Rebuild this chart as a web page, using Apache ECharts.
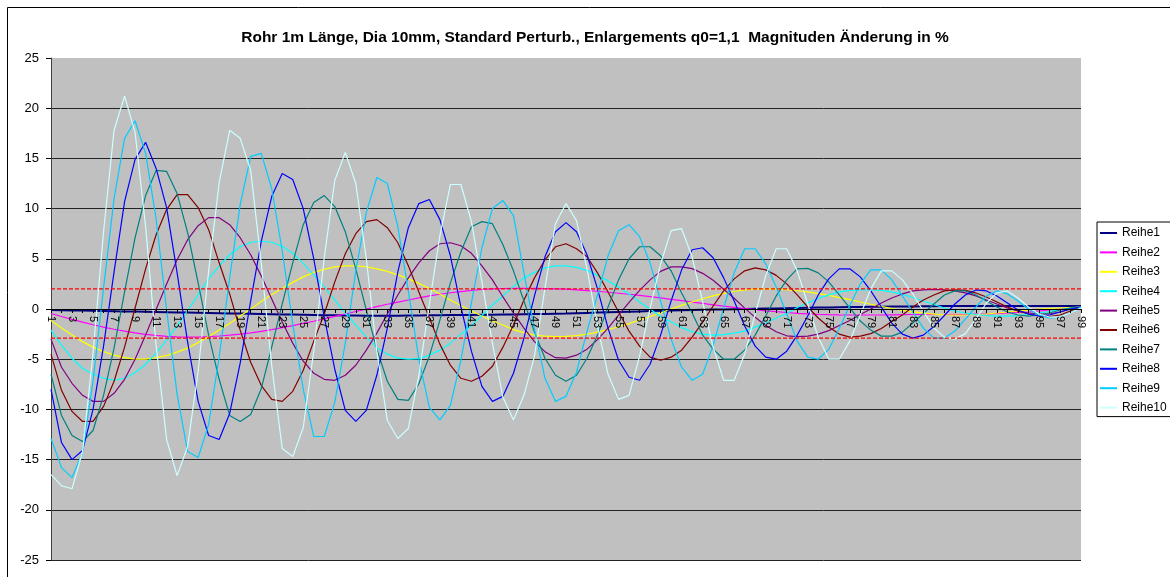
<!DOCTYPE html>
<html>
<head>
<meta charset="utf-8">
<script src="https://cdn.jsdelivr.net/npm/echarts@6/dist/echarts.min.js"></script>
<style>
html,body{margin:0;padding:0;background:#fff;}
#chart{width:1170px;height:577px;}
</style>
</head>
<body>
<div id="chart"></div>
<script>
const titleText = 'Rohr 1m Länge, Dia 10mm, Standard Perturb., Enlargements q0=1,1  Magnituden Änderung in %';
const categories = [1,2,3,4,5,6,7,8,9,10,11,12,13,14,15,16,17,18,19,20,21,22,23,24,25,26,27,28,29,30,31,32,33,34,35,36,37,38,39,40,41,42,43,44,45,46,47,48,49,50,51,52,53,54,55,56,57,58,59,60,61,62,63,64,65,66,67,68,69,70,71,72,73,74,75,76,77,78,79,80,81,82,83,84,85,86,87,88,89,90,91,92,93,94,95,96,97,98,99];
const seriesNames = ['Reihe1','Reihe2','Reihe3','Reihe4','Reihe5','Reihe6','Reihe7','Reihe8','Reihe9','Reihe10'];
const seriesColors = ['#000080','#FF00FF','#FFFF00','#00FFFF','#800080','#800000','#008080','#0000FF','#00CCFF','#CCFFFF'];
const yTicks = {min: -25, max: 25, step: 5};
const refLines = [2, -2.9];

const reihe1 = [-0.1,-0.12,-0.14,-0.16,-0.18,-0.2,-0.22,-0.24,-0.26,-0.28,-0.3,-0.32,-0.34,-0.36,-0.38,-0.4,-0.42,-0.44,-0.46,-0.48,-0.5,-0.52,-0.54,-0.56,-0.58,-0.6,-0.62,-0.63,-0.64,-0.65,-0.66,-0.66,-0.66,-0.66,-0.65,-0.64,-0.63,-0.62,-0.61,-0.6,-0.59,-0.58,-0.57,-0.56,-0.55,-0.53,-0.51,-0.49,-0.47,-0.45,-0.42,-0.39,-0.36,-0.33,-0.3,-0.27,-0.24,-0.21,-0.18,-0.15,-0.12,-0.1,-0.08,-0.06,-0.04,-0.02,0,0.02,0.04,0.06,0.08,0.1,0.12,0.14,0.16,0.18,0.2,0.21,0.22,0.23,0.24,0.25,0.26,0.27,0.28,0.29,0.3,0.3,0.3,0.3,0.3,0.3,0.3,0.3,0.3,0.3,0.3,0.3,0.3];
const reihe2 = [-0.45,-0.75,-1.04,-1.31,-1.57,-1.8,-2.02,-2.21,-2.38,-2.52,-2.63,-2.72,-2.78,-2.8,-2.79,-2.75,-2.69,-2.6,-2.5,-2.37,-2.22,-2.05,-1.86,-1.65,-1.44,-1.22,-0.99,-0.74,-0.5,-0.25,-0.01,0.24,0.47,0.69,0.9,1.11,1.3,1.47,1.62,1.74,1.86,1.94,2.0,2.04,2.05,2.05,2.05,2.03,2.01,1.97,1.91,1.84,1.77,1.67,1.57,1.47,1.35,1.23,1.1,0.96,0.83,0.69,0.56,0.42,0.29,0.17,0.05,-0.07,-0.18,-0.27,-0.35,-0.43,-0.49,-0.54,-0.57,-0.59,-0.6,-0.6,-0.6,-0.6,-0.58,-0.56,-0.55,-0.55,-0.55,-0.55,-0.55,-0.55,-0.52,-0.5,-0.45,-0.4,-0.35,-0.3,-0.2,-0.1,0,0.1,0.2];
const reihe3 = [-1.15,-1.9,-2.6,-3.25,-3.8,-4.25,-4.6,-4.85,-5.0,-5.0,-4.85,-4.65,-4.3,-3.9,-3.35,-2.75,-2.1,-1.45,-0.7,0,0.75,1.45,2.05,2.65,3.2,3.65,3.95,4.2,4.3,4.3,4.2,4.0,3.75,3.4,3.0,2.55,2.05,1.5,0.9,0.35,-0.2,-0.7,-1.2,-1.6,-2.05,-2.35,-2.6,-2.7,-2.75,-2.72,-2.65,-2.5,-2.3,-2.05,-1.77,-1.45,-1.1,-0.75,-0.38,0,0.36,0.7,1.02,1.3,1.55,1.74,1.89,1.97,2.0,2.0,1.92,1.82,1.7,1.53,1.35,1.14,0.93,0.7,0.47,0.26,0.05,-0.13,-0.29,-0.42,-0.52,-0.58,-0.6,-0.6,-0.55,-0.5,-0.4,-0.3,-0.2,-0.1,0,0.05,0.1,0.15,0.2];
const reihe4 = [-2.1,-3.6,-4.9,-5.9,-6.5,-6.9,-7.1,-6.9,-6.35,-5.5,-4.4,-3.1,-1.7,-0.15,1.4,3.0,4.3,5.4,6.2,6.65,6.75,6.65,6.25,5.55,4.55,3.4,2.2,0.9,-0.4,-1.6,-2.8,-3.85,-4.5,-4.9,-5.0,-4.95,-4.6,-4.1,-3.4,-2.5,-1.65,-0.65,0.4,1.3,2.25,3.1,3.65,4.1,4.3,4.3,4.15,3.85,3.35,2.8,2.2,1.5,0.7,0,-0.75,-1.3,-1.85,-2.25,-2.5,-2.6,-2.55,-2.4,-2.2,-1.8,-1.4,-0.9,-0.45,0.15,0.6,1.05,1.4,1.7,1.85,1.9,1.9,1.85,1.7,1.45,1.15,0.8,0.45,0.1,-0.2,-0.4,-0.55,-0.65,-0.7,-0.7,-0.65,-0.55,-0.4,-0.25,-0.05,0.1,0.2];
const reihe5 = [-3.0,-5.8,-7.4,-8.6,-9.2,-9.2,-8.4,-7.0,-5.0,-2.6,-0.05,2.5,4.9,6.9,8.3,9.1,9.1,8.4,7.1,5.4,3.3,1.0,-1.3,-3.4,-5.2,-6.4,-7.0,-7.1,-6.6,-5.6,-4.1,-2.4,-0.5,1.4,3.1,4.6,5.8,6.5,6.6,6.3,5.55,4.3,2.9,1.2,-0.4,-1.9,-3.25,-4.25,-4.85,-4.9,-4.6,-4.0,-3.05,-1.9,-0.6,0.65,1.85,2.9,3.75,4.2,4.2,4.02,3.55,2.86,1.97,1.07,0.09,-0.83,-1.64,-2.26,-2.67,-2.75,-2.7,-2.5,-2.15,-1.65,-1.15,-0.55,0,0.6,1.1,1.5,1.8,1.9,1.95,1.9,1.8,1.6,1.3,0.9,0.5,0.1,-0.2,-0.4,-0.5,-0.5,-0.3,0,0.2];
const reihe6 = [-4.5,-8.1,-10.2,-11.2,-11.2,-9.7,-7.2,-3.8,0.1,4.0,7.4,9.9,11.4,11.4,10.1,7.9,4.6,1.5,-2.1,-5.3,-7.6,-9.0,-9.2,-8.2,-6.1,-3.2,-0.5,2.7,5.5,7.5,8.7,8.9,8.1,6.6,4.3,1.7,-0.9,-3.5,-5.6,-6.9,-7.2,-6.7,-5.7,-3.8,-1.6,0.9,3.1,4.9,6.2,6.5,6.0,5.2,3.6,1.7,-0.3,-2.2,-3.7,-4.8,-5.1,-4.8,-4.1,-2.8,-1.3,0.3,1.8,3.0,3.8,4.1,3.9,3.35,2.5,1.4,0.2,-0.9,-1.8,-2.5,-2.8,-2.7,-2.45,-1.95,-1.25,-0.6,0.2,0.9,1.4,1.8,1.9,1.85,1.6,1.2,0.7,0.2,-0.2,-0.5,-0.7,-0.75,-0.6,-0.2,0.2];
const reihe7 = [-6.5,-10.6,-12.6,-13.2,-12.1,-8.6,-3.9,1.7,7.1,11.3,13.8,13.7,11.5,7.6,2.6,-2.6,-7.0,-10.6,-11.2,-10.5,-7.95,-3.8,0.5,4.6,8.4,10.6,11.3,10.2,7.7,4.0,-0.1,-4.0,-7.2,-9.0,-9.1,-7.45,-4.7,-1.1,2.6,5.7,8.2,8.7,8.5,6.4,3.8,0.8,-2.3,-4.9,-6.6,-7.2,-6.6,-4.9,-2.6,0.2,2.9,5.0,6.2,6.2,5.3,3.8,1.6,-0.4,-2.6,-4.0,-5.0,-5.0,-4.1,-2.6,-0.7,1.3,2.9,4.0,4.05,3.6,2.7,1.4,0.1,-1.2,-2.1,-2.7,-2.7,-2.3,-1.4,-0.45,0.5,1.4,1.8,1.8,1.4,0.8,0.2,-0.3,-0.6,-0.7,-0.6,-0.4,-0.1,0.1,0.2];
const reihe8 = [-8.0,-13.3,-15.0,-14.1,-10.0,-3.7,3.7,10.7,14.9,16.6,14.0,10.1,3.6,-3.3,-9.2,-12.6,-13.0,-10.4,-5.4,0.8,6.7,11.2,13.5,12.9,10.0,5.0,-0.8,-6.0,-10.1,-11.2,-10.1,-6.6,-1.9,3.7,8.1,10.5,10.9,8.9,5.3,0.2,-4.2,-7.7,-9.2,-8.7,-6.4,-2.9,1.3,5.2,7.7,8.6,7.7,5.4,2.0,-1.9,-5.1,-6.8,-7.1,-5.5,-2.6,0.8,3.9,5.9,6.1,5.1,3.1,0.8,-1.7,-3.7,-4.8,-5.0,-4.2,-2.6,-0.7,1.4,3.0,4.0,4.0,3.2,1.8,0.2,-1.4,-2.5,-2.9,-2.6,-1.75,-0.65,0.5,1.4,1.9,1.8,1.3,0.6,-0.1,-0.5,-0.7,-0.6,-0.3,0,0.2];
const reihe9 = [-12.9,-15.8,-16.8,-14.3,-7.2,2.1,11.0,17.0,18.75,15.5,9.0,-0.1,-8.5,-14.2,-14.8,-11.5,-4.8,3.1,10.4,15.2,15.5,12.0,5.8,-1.5,-8.0,-12.7,-12.7,-9.3,-3.4,3.8,9.6,13.1,12.5,8.2,1.8,-5.0,-9.8,-11.05,-9.6,-5.1,0.6,6.1,10.0,10.8,9.3,3.6,-2.0,-6.9,-9.2,-8.7,-6.3,-2.2,1.4,5.3,7.8,8.4,7.2,4.6,0.8,-3.0,-5.8,-7.1,-6.5,-3.6,0.1,3.6,6.0,6.0,4.5,2.2,-0.5,-3.2,-4.8,-5.0,-4.0,-1.95,0.35,2.5,3.9,3.9,2.9,1.3,-0.3,-1.9,-2.9,-2.9,-2.2,-1.0,0.2,1.3,1.8,1.5,0.8,0,-0.6,-0.9,-0.8,-0.4,0.2];
const reihe10 = [-16.5,-17.6,-17.9,-14.2,-4.4,7.7,17.8,21.2,17.6,8.2,-3.6,-13.0,-16.6,-13.7,-6.2,3.8,12.6,17.8,17.0,13.8,4.6,-5.6,-13.9,-14.7,-11.8,-4.2,5.1,12.8,15.6,12.5,5.0,-4.2,-11.1,-12.9,-11.9,-6.6,0.5,7.3,12.4,12.4,8.7,2.7,-3.4,-8.8,-11.05,-8.6,-4.7,2.1,8.5,10.5,8.8,4.0,-1.7,-6.5,-9.0,-8.6,-4.7,0.1,4.5,7.8,8.0,5.2,0.7,-3.8,-7.1,-7.1,-4.5,-0.5,3.3,6.0,6.0,3.8,0.5,-2.8,-5.0,-5.0,-3.2,-0.6,2.0,3.8,3.8,2.9,1.5,-0.2,-1.9,-2.8,-3.0,-2.45,-1.0,0.6,1.6,1.8,1.1,0.2,-0.5,-0.8,-0.8,-0.4,0.1];

const seriesData = [reihe1,reihe2,reihe3,reihe4,reihe5,reihe6,reihe7,reihe8,reihe9,reihe10];
const FONT = '"Liberation Sans", Arial, sans-serif';

const GRID = {left: 51, right: 89, top: 58, bottom: 17};
const plotH = 577 - GRID.top - GRID.bottom;
const zeroOffset = plotH * (0 - yTicks.min) / (yTicks.max - yTicks.min);

const chart = echarts.init(document.getElementById('chart'), null, {renderer:'canvas'});

const series = seriesNames.map((name, k) => ({
  name: name,
  type: 'line',
  data: seriesData[k],
  showSymbol: false,
  symbol: 'none',
  smooth: false,
  animation: false,
  lineStyle: {color: seriesColors[k], width: k === 0 ? 2 : 1.2},
  itemStyle: {color: seriesColors[k]},
  z: 3 + k
}));

// red dashed reference levels drawn as flat two-point lines across the category range
refLines.forEach((v, j) => {
  series.push({
    name: 'ref' + j,
    type: 'line',
    data: [[String(categories[0]), v], [String(categories[categories.length - 1]), v]],
    showSymbol: false,
    symbol: 'none',
    silent: true,
    animation: false,
    z: 20,
    color: '#FF0000',
    lineStyle: {color: '#FF0000', type: [4, 2], width: 1.2, opacity: 1},
    itemStyle: {color: '#FF0000'}
  });
});

chart.setOption({
  animation: false,
  backgroundColor: '#ffffff',
  title: {
    text: titleText,
    left: 590,
    top: 25,
    textAlign: 'center',
    textStyle: {fontFamily: FONT, fontSize: 15.5, fontWeight: 'bold', color: '#000'}
  },
  graphic: [{
    type: 'rect',
    shape: {x: 7.5, y: 7.5, width: 1200, height: 620},
    style: {fill: 'none', stroke: '#000', lineWidth: 1},
    silent: true,
    z: -10
  }],
  legend: {
    data: seriesNames,
    orient: 'vertical',
    left: 1097,
    top: 222,
    padding: [4, 14, 2, 3],
    itemGap: 5.4,
    itemWidth: 17,
    itemHeight: 2,
    icon: 'rect',
    backgroundColor: '#ffffff',
    borderColor: '#000',
    borderWidth: 1,
    borderRadius: 0,
    textStyle: {fontFamily: FONT, fontSize: 12, color: '#000', lineHeight: 14}
  },
  grid: {
    left: GRID.left, right: GRID.right, top: GRID.top, bottom: GRID.bottom,
    show: true,
    backgroundColor: '#C0C0C0',
    borderWidth: 0,
    containLabel: false
  },
  xAxis: {
    type: 'category',
    data: categories,
    boundaryGap: false,
    position: 'bottom',
    offset: -zeroOffset,
    z: 15,
    axisLine: {onZero: false, lineStyle: {color: '#000', width: 1}},
    axisTick: {show: true, interval: 0, length: 4, lineStyle: {color: '#000'}},
    axisLabel: {interval: 1, rotate: -90, margin: 7, fontFamily: FONT, fontSize: 11, color: '#000'},
    splitLine: {show: false}
  },
  yAxis: {
    type: 'value',
    min: yTicks.min, max: yTicks.max, interval: yTicks.step,
    axisLine: {show: true, onZero: false, lineStyle: {color: '#404040', width: 1}},
    axisTick: {show: true, length: 5, lineStyle: {color: '#000'}},
    axisLabel: {margin: 12, fontFamily: FONT, fontSize: 13, color: '#000'},
    splitLine: {show: true, showMaxLine: false, lineStyle: {color: '#222', width: 1}}
  },
  series: series
});
</script>
</body>
</html>
